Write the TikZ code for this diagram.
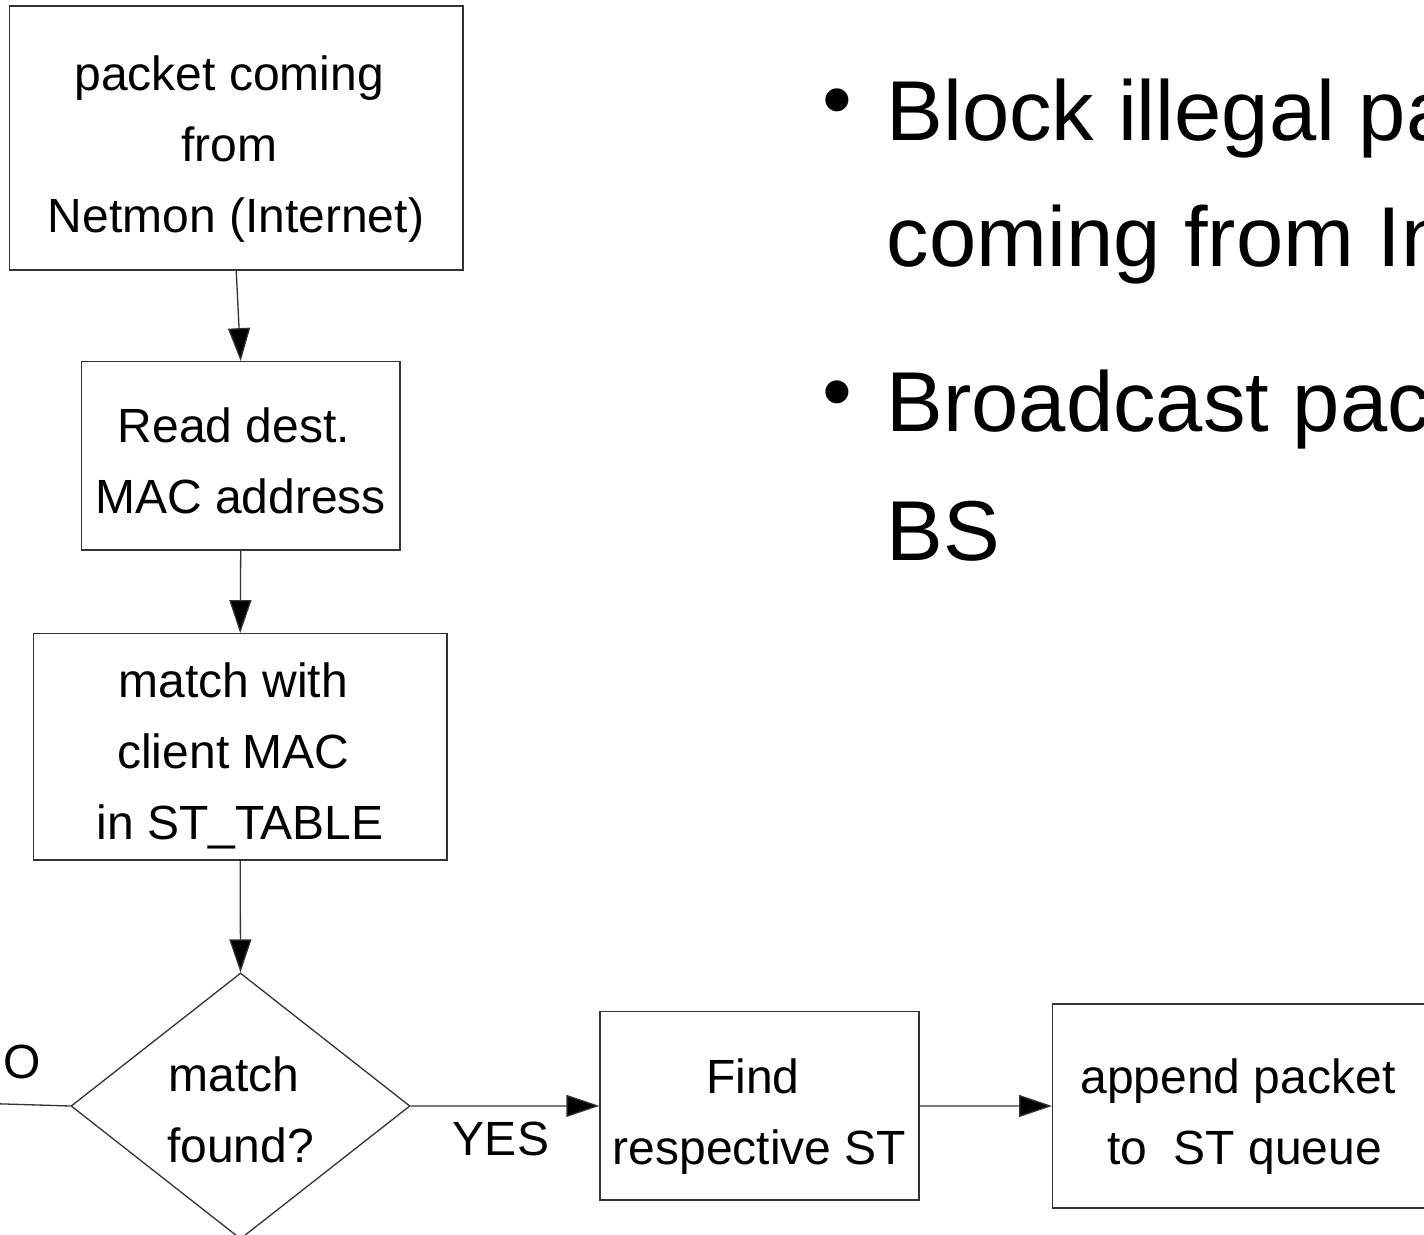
\documentclass[tikz,border=0pt]{standalone}
\usepackage{fontspec}
\setmainfont{Liberation Sans}
\usetikzlibrary{arrows.meta,shapes.geometric}
\definecolor{linecol}{rgb}{0.2,0.2,0.2}
% width of a trailing word space at 48pt
\newcommand{\tsp}{\kern13.3pt}
\begin{document}
\begin{tikzpicture}[x=1pt,y=-1pt,
  line width=1.3pt,
  flowbox/.style={draw=linecol, rectangle, inner sep=0pt},
  decision/.style={draw=linecol, diamond, inner sep=0pt},
  label text/.style={inner sep=0pt, align=center, text=black,
    font=\fontsize{48pt}{71pt}\selectfont},
  bullet text/.style={inner sep=0pt, text=black,
    font=\fontsize{85pt}{127pt}\selectfont},
  flow/.style={draw=linecol, -{Triangle[length=33pt,width=22pt,fill=black]}},
  plain/.style={draw=linecol}]

\useasboundingbox (0,0) rectangle (1424,1234);
\fill[white] (0,0) rectangle (1424,1234);
\clip (0,0) rectangle (1424,1234);

% process boxes
\node[flowbox, minimum width=453.7pt, minimum height=264pt]   (b1) at (236.2,138) {};
\node[flowbox, minimum width=318.7pt, minimum height=188.3pt] (b2) at (240.7,455.9) {};
\node[flowbox, minimum width=413.7pt, minimum height=226.3pt] (b3) at (240.2,746.9) {};
\node[decision, minimum width=339pt, minimum height=266pt]    (dec) at (240.5,1106) {};
\node[flowbox, minimum width=319pt, minimum height=188.3pt]   (find) at (759.5,1105.9) {};
\node[flowbox, minimum width=375.3pt, minimum height=204pt]   (app) at (1240.3,1106) {};

% box texts
\node[label text] (t1) at (236,148.6) {packet coming\tsp\\from\tsp\\Netmon (Internet)};
\node[label text] (t2) at (240.5,461) {Read dest.\tsp\\MAC address};
\node[label text] (t3) at (240,755.8) {match with\tsp\\client MAC\tsp\\in ST\_TABLE};
\node[label text] (t4) at (240.5,1110) {match\tsp\\found?};
\node[label text] (t5) at (759.5,1116.3) {Find\tsp\\respective ST};
\node[label text] (t6) at (1240,1116.3) {append packet\kern4pt\\\kern9pt to\ \ ST queue};

% branch labels
\node[label text, anchor=base] (yes) at (501,1155) {YES};
\node[label text, anchor=base east] (no) at (41,1078) {NO};

% connectors
\coordinate (noend) at (-60,1102);
\draw[flow] (b1.south) -- (b2.north);
\draw[flow] (b2.south) -- (b3.north);
\draw[flow] (b3.south) -- (dec.north);
\draw[flow] (dec.east) -- (find.west);
\draw[flow] (find.east) -- (app.west);
\draw[plain] (dec.west) -- (noend);

% bullet list
\node[bullet text, anchor=base] (bul1) at (837,128) {•};
\node[bullet text, anchor=base west] (l1) at (886,140) {Block illegal packets};
\node[bullet text, anchor=base west] (l2) at (886,266.7) {coming from Internet};
\node[bullet text, anchor=base] (bul2) at (837,420) {•};
\node[bullet text, anchor=base west] (l3) at (886,431.7) {Broadcast packets};
\node[bullet text, anchor=base west] (l4) at (886,560) {BS};
\end{tikzpicture}
\end{document}
